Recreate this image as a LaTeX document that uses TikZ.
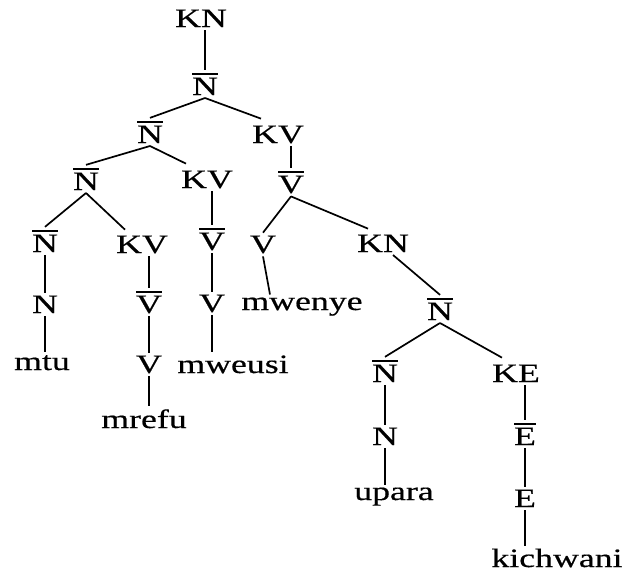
\documentclass[tikz,border=0pt]{standalone}
\usepackage{fontspec}
\newfontfamily\treefont[FakeStretch=1.35,FakeBold=0.5]{Liberation Serif}
\newcommand\ob[1]{\vbox{\hrule height 1.7pt\kern 3.1pt\hbox{#1}}}
\tikzset{
  lab/.style={anchor=base, inner xsep=0pt, inner ysep=3pt, outer sep=0pt,
    font=\treefont\fontsize{26.5}{30}\selectfont},
  edge/.style={line width=1.7pt}
}
\begin{document}
\begin{tikzpicture}[x=1pt,y=1pt]
\useasboundingbox (0,0) rectangle (629,-573);
% nodes (x, -baseline)
\node[lab] (kn1) at (201,-27) {KN};
\node[lab] (n1) at (205,-95) {\ob{N}};
\node[lab] (n2) at (150,-143) {\ob{N}};
\node[lab] (kv1) at (278,-143) {KV};
\node[lab] (n3) at (86,-190) {\ob{N}};
\node[lab] (kv2) at (207,-188) {KV};
\node[lab] (vb1) at (291,-193) {\ob{V}};
\node[lab] (n4) at (45,-252) {\ob{N}};
\node[lab] (kv3) at (142,-253) {KV};
\node[lab] (vb2) at (212,-250) {\ob{V}};
\node[lab] (v1) at (263,-253) {V};
\node[lab] (kn2) at (383,-252) {KN};
\node[lab] (n5) at (45,-313) {N};
\node[lab] (vb3) at (149,-313) {\ob{V}};
\node[lab] (v2) at (212,-312) {V};
\node[lab] (mwenye) at (302,-310) {mwenye};
\node[lab] (nb6) at (440,-320) {\ob{N}};
\node[lab] (mtu) at (42,-370) {mtu};
\node[lab] (v3) at (149,-373) {V};
\node[lab] (mweusi) at (233,-373) {mweusi};
\node[lab] (mrefu) at (144,-428) {mrefu};
\node[lab] (nb7) at (385,-382) {\ob{N}};
\node[lab] (ke) at (516,-382) {KE};
\node[lab] (n8) at (385,-445) {N};
\node[lab] (eb) at (525,-445) {\ob{E}};
\node[lab] (upara) at (394,-500) {upara};
\node[lab] (e) at (525,-507) {E};
\node[lab] (kichwani) at (557,-567) {kichwani};
% connectors
\draw[edge] (n1.north |- kn1.south) -- (n1.north);
\draw[edge] (n1.south) -- (n2.north);
\draw[edge] (n1.south) -- ([xshift=-17pt,yshift=4pt]kv1.north);
\draw[edge] (n2.south) -- (n3.north);
\draw[edge] (n2.south) -- ([xshift=-21pt,yshift=4pt]kv2.north);
\draw[edge] (vb1.north |- kv1.south) -- (vb1.north);
\draw[edge] (vb1.south) -- (v1.north);
\draw[edge] (vb1.south) -- ([xshift=-15pt,yshift=3pt]kn2.north);
\draw[edge] (n3.south) -- (n4.north);
\draw[edge] (n3.south) -- ([xshift=-17pt,yshift=3pt]kv3.north);
\draw[edge] (vb2.north |- kv2.south) -- (vb2.north);
\draw[edge] (vb3.north |- kv3.south) -- (vb3.north);
\draw[edge] (v2.north |- vb2.south) -- (v2.north);
\draw[edge] (v1.south) -- ([xshift=-32pt]mwenye.north);
\draw[edge] ([xshift=10pt]kn2.south) -- (nb6.north);
\draw[edge] (n5.north |- n4.south) -- (n5.north);
\draw[edge] (v3.north |- vb3.south) -- (v3.north);
\draw[edge] (n5.south) -- (n5.south |- mtu.north);
\draw[edge] (v3.south) -- (v3.south |- mrefu.north);
\draw[edge] (v2.south) -- (v2.south |- mweusi.north);
\draw[edge] (nb6.south) -- (nb7.north);
\draw[edge] (nb6.south) -- ([xshift=-14pt,yshift=4pt]ke.north);
\draw[edge] (n8.north |- nb7.south) -- (n8.north);
\draw[edge] (eb.north |- ke.south) -- (eb.north);
\draw[edge] (n8.south) -- (n8.south |- upara.north);
\draw[edge] (e.north |- eb.south) -- (e.north);
\draw[edge] (e.south) -- (e.south |- kichwani.north);
\end{tikzpicture}
\end{document}
